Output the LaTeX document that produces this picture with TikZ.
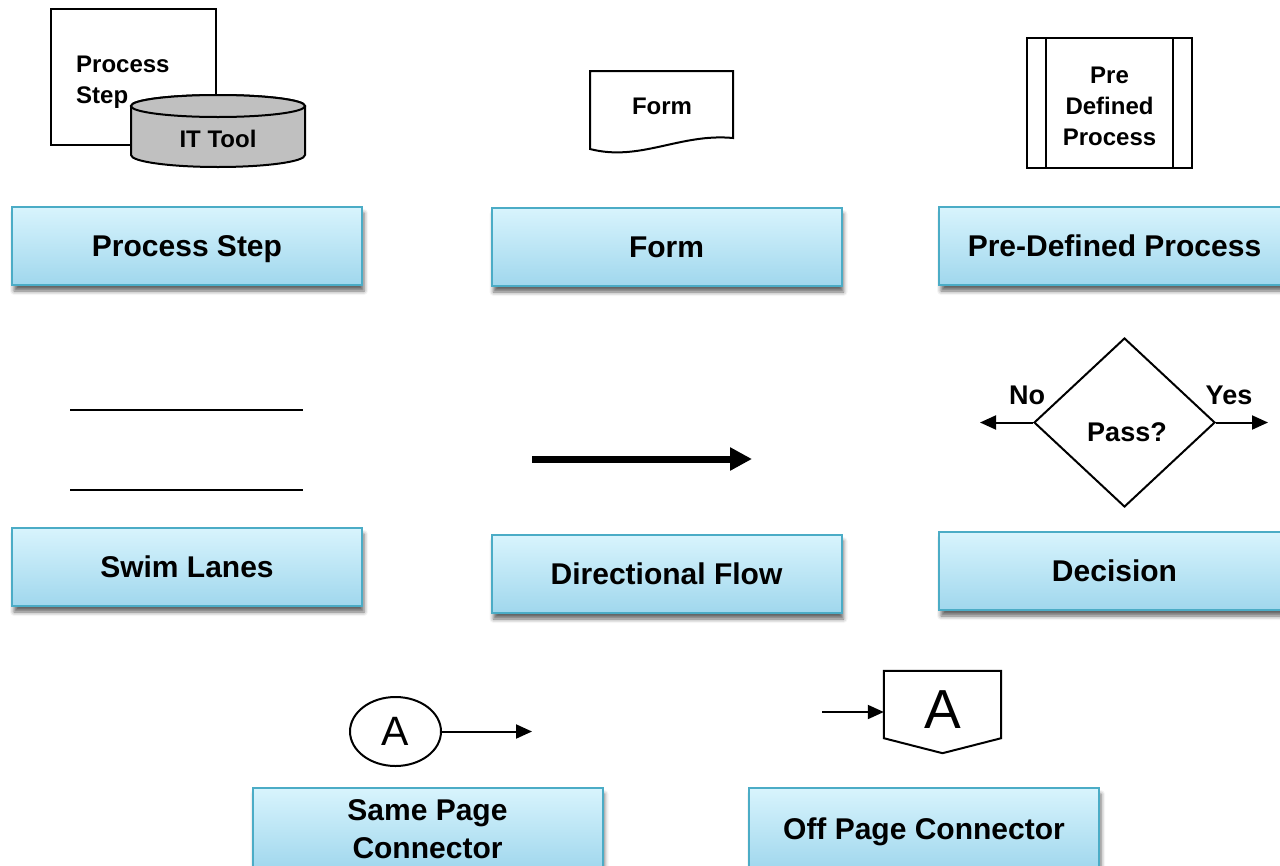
\documentclass[tikz,border=0pt]{standalone}
\usepackage{fontspec}
\setmainfont{Liberation Sans}
\usetikzlibrary{shapes.geometric,arrows.meta,shadows.blur,calc}

\definecolor{capborder}{RGB}{75,172,198}
\definecolor{captop}{RGB}{216,244,253}
\definecolor{capbottom}{RGB}{160,215,237}
\definecolor{cylgray}{RGB}{192,192,192}

\tikzset{
  caption/.style={draw=capborder, line width=2pt, top color=captop, bottom color=capbottom,
    blur shadow={shadow xshift=2pt, shadow yshift=-6pt, shadow opacity=60, shadow blur radius=4pt},
    minimum width=350pt, minimum height=78pt, inner sep=0pt, align=center,
    text height=21.5pt, text depth=0pt,
    font=\fontsize{30}{38}\selectfont\bfseries},
  symb/.style={draw, line width=2pt},
  smalltext/.style={inner sep=0pt, font=\fontsize{24}{31}\selectfont\bfseries, align=center},
  midtext/.style={inner sep=0pt, font=\fontsize{27}{32}\selectfont\bfseries},
  thinarrow/.style={line width=2pt, -{Triangle[length=16pt, width=14pt]}},
}

\begin{document}
\begin{tikzpicture}[x=1pt, y=1pt]
\useasboundingbox (0,0) rectangle (1280,-865);
\clip (0,0) rectangle (1280,-865);

% ---------- Process step with IT tool ----------
\node[symb, minimum width=165pt, minimum height=136pt, inner sep=0pt] (psbox) at (133.5,-77) {};
\node[smalltext, align=left, anchor=north west] (pstext) at (76,-56) {Process\\Step};
\draw[line width=2pt, fill=cylgray]
  (131,-106) -- (131,-155) arc[start angle=180, end angle=360, x radius=87, y radius=12]
  -- (305,-106) arc[start angle=0, end angle=180, x radius=87, y radius=11] -- cycle;
\draw[line width=2pt, fill=cylgray] (218,-106) ellipse[x radius=87, y radius=11];
\node[smalltext] (ittool) at (218,-139) {IT Tool};

% ---------- Form ----------
\draw[line width=2pt, fill=white]
  (590,-71) -- (733,-71) -- (733,-138)
  .. controls (680,-133) and (640,-162) .. (590,-149) -- cycle;
\node[smalltext] (formtext) at (662,-106) {Form};

% ---------- Pre-defined process ----------
\node[symb, minimum width=165pt, minimum height=130pt, inner sep=0pt] (pdp) at (1109.5,-103) {};
\draw[line width=2pt] ($(pdp.north west)+(20,0)$) -- ($(pdp.south west)+(20,0)$);
\draw[line width=2pt] ($(pdp.north east)+(-20,0)$) -- ($(pdp.south east)+(-20,0)$);
\node[smalltext] (pdptext) at (1109.5,-106) {Pre\\Defined\\Process};

% ---------- Swim lanes ----------
\draw[line width=2pt] (70,-410) -- (303,-410);
\draw[line width=2pt] (70,-490) -- (303,-490);

% ---------- Directional flow ----------
\coordinate (flowa) at (532,-459);
\coordinate (flowb) at (752,-459);
\draw[line width=7pt, -{Triangle[length=22pt, width=22pt]}] (flowa) -- (flowb);

% ---------- Decision ----------
\node[diamond, symb, minimum width=181pt, minimum height=169pt, inner sep=0pt] (dec) at (1124.5,-422.5) {};
\node[midtext] (pass) at (1127,-432) {Pass?};
\coordinate (noend) at (980,-422.5);
\coordinate (yesend) at (1268,-422.5);
\draw[thinarrow] (dec.west) -- (noend);
\draw[thinarrow] (dec.east) -- (yesend);
\node[midtext] (nolbl) at (1027,-395) {No};
\node[midtext] (yeslbl) at (1229,-395) {Yes};

% ---------- Same page connector ----------
\node[ellipse, symb, minimum width=91pt, minimum height=69pt, inner sep=0pt,
      font=\fontsize{41}{41}\selectfont] (samea) at (395.5,-731.5) {A};
\coordinate (sameend) at (532,-731.5);
\draw[thinarrow] (samea.east) -- (sameend);

% ---------- Off page connector ----------
\node[minimum width=117pt, minimum height=67pt, inner sep=0pt] (offa) at (942.5,-704.5) {};
\draw[line width=2pt, fill=white] (offa.north west) -- (offa.north east) -- (offa.south east)
  -- ($(offa.south)+(0,-15)$) -- (offa.south west) -- cycle;
\node[inner sep=0pt, font=\fontsize{55}{55}\selectfont] (offtext) at (942.5,-710) {A};
\coordinate (offstart) at (822,-712);
\draw[thinarrow] (offstart) -- (offa.west |- offstart);

% ---------- Captions ----------
\node[caption] (capps) at (187,-246) {Process Step};
\node[caption] (capform) at (666.5,-247) {Form};
\node[caption, minimum width=351pt] (cappdp) at (1114.5,-246) {Pre-Defined Process};
\node[caption] (capswim) at (187,-567) {Swim Lanes};
\node[caption] (capflow) at (666.5,-574) {Directional Flow};
\node[caption, minimum width=351pt] (capdec) at (1114.5,-571) {Decision};
\node[caption, minimum height=82pt, text height=, text depth=] (capsame) at (427.5,-829) {Same Page\\Connector};
\node[caption, minimum height=82pt] (capoff) at (924,-829) {Off Page Connector};
\end{tikzpicture}
\end{document}
